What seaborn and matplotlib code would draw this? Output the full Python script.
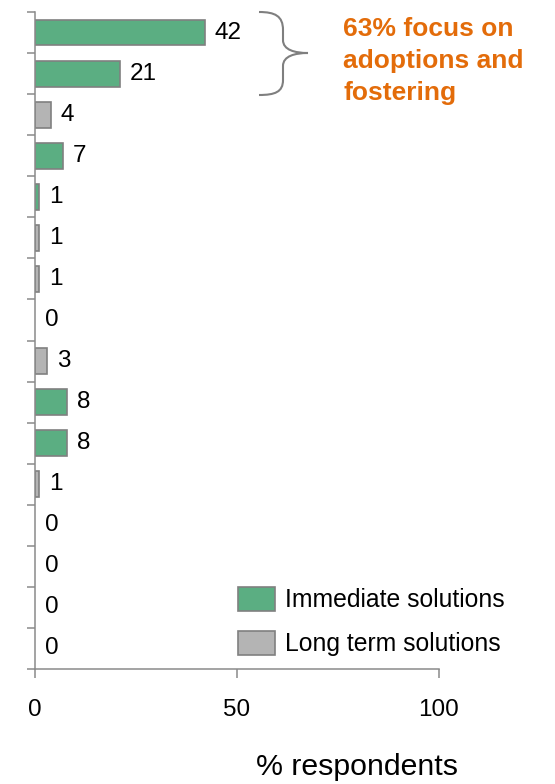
import numpy as np
import pandas as pd
import matplotlib
matplotlib.use("Agg")
import matplotlib.pyplot as plt
from matplotlib.path import Path
from matplotlib.patches import PathPatch, Patch
import seaborn as sns

# data (top to bottom)
rows = [str(i) for i in range(1, 17)]
pct = [42, 21, 4, 7, 1, 1, 1, 0, 3, 8, 8, 1, 0, 0, 0, 0]
IMM = "Immediate solutions"
LT = "Long term solutions"
kind = [IMM, IMM, LT, IMM, IMM, LT, LT, LT, LT, IMM, IMM, LT, LT, LT, LT, LT]
x_ticks = [0, 50, 100]
note = "63% focus on\nadoptions and\nfostering"

green = "#5BAE82"
grey = "#B4B4B4"
edge = "#808080"
axis_grey = "#8A8A8A"
orange = "#E36C0A"

sns.set_style("white")
plt.rcParams["font.family"] = ["Liberation Sans", "DejaVu Sans"]
plt.rcParams["text.color"] = "black"
plt.rcParams["xtick.labelcolor"] = "black"

df = pd.DataFrame({"row": rows, "pct": pct, "kind": kind})

W, H = 555, 784
fig = plt.figure(figsize=(W / 100, H / 100), dpi=100)
ax = fig.add_axes([35 / W, 1 - 669 / H, (439 - 35) / W, (669 - 12) / H])

sns.barplot(data=df, x="pct", y="row", hue="kind", hue_order=[IMM, LT],
            palette={IMM: green, LT: grey}, dodge=False, width=0.63,
            saturation=1, edgecolor=edge, linewidth=1.2, legend=False,
            orient="h", ax=ax)

for p in ax.patches:
    if p.get_width() == 0:
        p.set_linewidth(0)
for c in ax.containers:
    ax.bar_label(c, fmt="%g", padding=7, fontsize=17.5, color="black")

ax.set_xlim(0, 100)
ax.set_ylim(15.5, -0.5)
ax.set_xticks(x_ticks)
ax.set_yticks(np.arange(-0.5, 16, 1))
ax.set_yticklabels([])
ax.set_xlabel("")
ax.set_ylabel("")
ax.tick_params(axis="x", labelsize=17.5, length=6.5, width=1.1, color=axis_grey,
               labelcolor="black", direction="out", pad=15, bottom=True)
ax.tick_params(axis="y", length=6, width=1.1, color=axis_grey,
               direction="out", left=True)
sns.despine(ax=ax)
for s in ("left", "bottom"):
    ax.spines[s].set_color(axis_grey)
    ax.spines[s].set_linewidth(1.1)

fig.text(357 / W, 1 - 767 / H, "% respondents", ha="center", va="center",
         fontsize=21.8, color="black")

handles = [Patch(facecolor=green, edgecolor=edge, linewidth=1.2, label=IMM),
           Patch(facecolor=grey, edgecolor=edge, linewidth=1.2, label=LT)]
leg = fig.legend(handles=handles, loc="upper left",
                 bbox_to_anchor=(238 / W, 1 - 587 / H), frameon=False,
                 fontsize=17.8, handlelength=1.5, handleheight=1.1,
                 handletextpad=0.4, labelspacing=0.75, borderpad=0,
                 borderaxespad=0, labelcolor="black")

# curly brace next to the two top bars
pts = [(259, 12), (275, 12), (283, 16), (283, 30), (283, 40),
       (283, 50), (295, 53), (308, 53),
       (295, 53), (283, 56), (283, 66), (283, 80),
       (283, 92), (275, 95), (259, 95)]
codes = [Path.MOVETO, Path.CURVE4, Path.CURVE4, Path.CURVE4, Path.LINETO,
         Path.CURVE4, Path.CURVE4, Path.CURVE4,
         Path.CURVE4, Path.CURVE4, Path.CURVE4, Path.LINETO,
         Path.CURVE4, Path.CURVE4, Path.CURVE4]
verts = [(x / W, 1 - y / H) for x, y in pts]
fig.patches.append(PathPatch(Path(verts, codes), transform=fig.transFigure,
                             facecolor="none", edgecolor="#7F7F7F", lw=1.5))

fig.text(343 / W, 1 - 17 / H, note, ha="left", va="top", fontsize=19,
         fontweight="bold", color=orange, linespacing=1.42)

fig.savefig("out.png", dpi=100)
